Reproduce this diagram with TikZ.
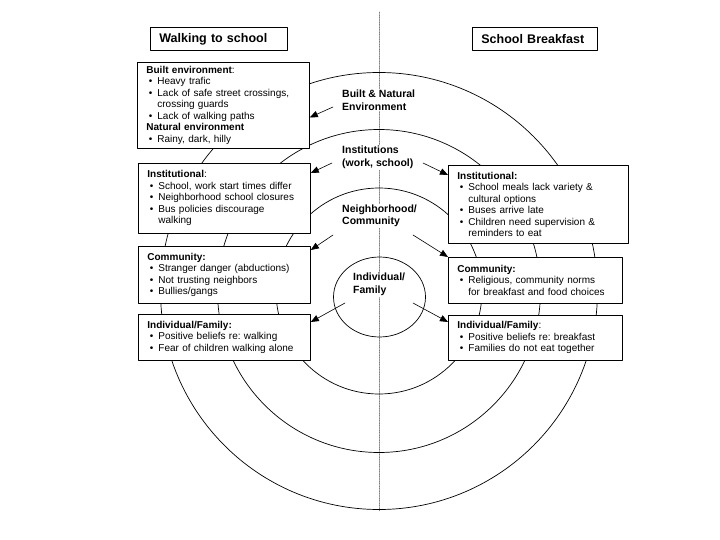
\documentclass[tikz,border=0pt]{standalone}
\usepackage{fontspec}
\setmainfont{Liberation Sans}
\usetikzlibrary{arrows.meta}
\setlength{\parindent}{0pt}
\frenchspacing
\newcommand{\bul}{\par\noindent\hangindent=11pt\hangafter=1\makebox[11pt][l]{\hspace{2.5pt}\textbullet}}

\begin{document}
\begin{tikzpicture}[line cap=round,line join=round,>={Triangle[length=8pt,width=6.5pt]},x=1pt,y=-1pt,
  ring/.style={line width=0.7pt},
  axisline/.style={densely dotted,gray,line width=0.7pt},
  titlebox/.style={draw,fill=white,line width=0.8pt,anchor=north west,align=left,inner xsep=9pt,
    font=\fontsize{12.5}{14}\selectfont\bfseries},
  listbox/.style={draw,fill=white,line width=0.8pt,anchor=north west,align=left,inner xsep=9pt,inner ysep=3pt,
    font=\fontsize{10}{11.5}\selectfont},
  level/.style={fill=white,anchor=west,align=left,inner sep=1pt,font=\fontsize{10.5}{12.5}\selectfont\bfseries},
  arr/.style={->,line width=0.6pt}]
\useasboundingbox (0,0) rectangle (720,540);
% rings and middle line
\coordinate (ctr) at (379,291);
\draw [axisline] (379,12) -- (379,511);
\draw [ring] (ctr) circle (218.5pt);
\draw [ring] (ctr) circle (161.5pt);
\draw [ring] (ctr) circle (103pt);
\draw [ring] (379.5,297) ellipse (46pt and 40pt);
% titles
\node [titlebox,minimum width=137pt,minimum height=23pt,text width=119pt] (walk) at (150,27) {Walking to school};
\node [titlebox,minimum width=125pt,minimum height=23pt,text width=107pt] (brk) at (472,27) {School Breakfast};
% walking
\node [listbox,text width=154pt,minimum height=86pt] (boxBuilt) at (137,62) {\textbf{Built environment}:
\bul Heavy trafic
\bul Lack of safe street crossings,\newline crossing guards
\bul Lack of walking paths
\par\textbf{Natural environment}
\bul Rainy, dark, hilly\par};
\node [listbox,text width=154pt,minimum height=70pt] (boxInstL) at (138,163) {\textbf{Institutional}:
\bul School, work start times differ
\bul Neighborhood school closures
\bul Bus policies discourage\newline walking\par};
\node [listbox,text width=154pt,minimum height=57pt] (boxCommL) at (138,246) {\textbf{Community:}
\bul Stranger danger (abductions)
\bul Not trusting neighbors
\bul Bullies/gangs\par};
\node [listbox,text width=154pt,minimum height=46pt] (boxIndL) at (138,314) {\textbf{Individual/Family:}
\bul Positive beliefs re: walking
\bul Fear of children walking alone\par};
% breakfast
\node [listbox,text width=162pt,minimum height=78pt] (boxInstR) at (448,165) {\textbf{Institutional:}
\bul School meals lack variety \&\newline cultural options
\bul Buses arrive late
\bul Children need supervision \&\newline reminders to eat\par};
\node [listbox,text width=156pt,minimum height=46pt] (boxCommR) at (448,257) {\textbf{Community:}
\bul Religious, community norms\newline for breakfast and food choices\par};
\node [listbox,text width=156pt,minimum height=45pt] (boxIndR) at (448,315) {\textbf{Individual/Family}:
\bul Positive beliefs re: breakfast
\bul Families do not eat together\par};
% levels
\node [level] (lblBuilt) at (341,100) {Built \& Natural\\Environment};
\node [level] (lblInst) at (341,157.5) {Institutions\\(work, school)};
\node [level] (lblComm) at (341,216) {Neighborhood/\\Community};
\node [level] (lblInd) at (352,284.5) {Individual/\\Family};
% arrows
\coordinate (tBuiltL) at (333,107);
\coordinate (tInstL) at (332,163);
\coordinate (tInstR) at (423,163);
\coordinate (tCommL) at (333,235);
\coordinate (tCommR) at (413,235);
\coordinate (tIndL) at (345,303);
\coordinate (tIndR) at (413,303);
\draw [arr] (tBuiltL) -- ([yshift=-12pt]boxBuilt.east);
\draw [arr] (tInstL) -- ([yshift=-10pt]boxInstL.north east);
\draw [arr] (tInstR) -- ([yshift=-10pt]boxInstR.north west);
\draw [arr] (tCommL) -- ([yshift=-4pt]boxCommL.north east);
\draw [arr] (tCommR) -- (boxCommR.north west);
\draw [arr] (tIndL) -- ([yshift=-8pt]boxIndL.north east);
\draw [arr] (tIndR) -- ([yshift=-7pt]boxIndR.north west);
\end{tikzpicture}
\end{document}
